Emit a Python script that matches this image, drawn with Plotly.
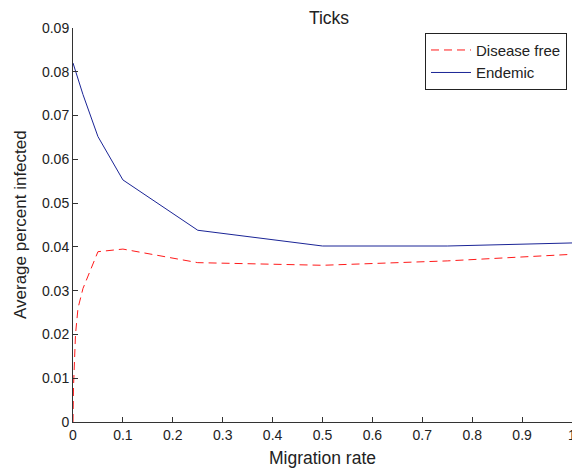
import plotly.graph_objects as go

# Data
x_free = [0, 0.001, 0.005, 0.01, 0.02, 0.05, 0.1, 0.25, 0.5, 0.75, 1.0]
y_free = [0, 0.008, 0.020, 0.026, 0.0305, 0.0389, 0.0395, 0.0364, 0.0358, 0.0368, 0.0383]

x_end = [0, 0.01, 0.02, 0.05, 0.1, 0.25, 0.5, 0.75, 1.0]
y_end = [0.0820, 0.0783, 0.0748, 0.0652, 0.0553, 0.0438, 0.0402, 0.0402, 0.0409]

x_ticks = [0, 0.1, 0.2, 0.3, 0.4, 0.5, 0.6, 0.7, 0.8, 0.9, 1]
x_tick_labels = ["0", "0.1", "0.2", "0.3", "0.4", "0.5", "0.6", "0.7", "0.8", "0.9", "1"]
y_ticks = [0, 0.01, 0.02, 0.03, 0.04, 0.05, 0.06, 0.07, 0.08, 0.09]
y_tick_labels = ["0", "0.01", "0.02", "0.03", "0.04", "0.05", "0.06", "0.07", "0.08", "0.09"]

font_family = "Liberation Sans, Arial, Helvetica, sans-serif"

fig = go.Figure()
fig.add_trace(go.Scatter(
    x=x_free, y=y_free, mode="lines", name="Disease free",
    line=dict(color="#ff1a1a", width=1, dash="8px,5px"),
))
fig.add_trace(go.Scatter(
    x=x_end, y=y_end, mode="lines", name="Endemic",
    line=dict(color="#1a2496", width=1),
))

fig.update_layout(
    width=572, height=468,
    margin=dict(l=73, r=0, t=28, b=46, autoexpand=False),
    paper_bgcolor="white", plot_bgcolor="white",
    font=dict(family=font_family, size=14, color="#222"),
    title=dict(text="Ticks", x=329 / 572, xanchor="center", xref="container",
               y=1 - 18 / 468, yanchor="middle", yref="container",
               font=dict(size=17.5, color="#222")),
    showlegend=True,
    legend=dict(
        x=0.99, xanchor="right", y=0.988, yanchor="top",
        bordercolor="#222", borderwidth=1, bgcolor="white",
        font=dict(size=15, color="#222"),
        tracegroupgap=0, itemsizing="trace", itemwidth=40,
    ),
    xaxis=dict(
        range=[0, 1], tickvals=x_ticks, ticktext=x_tick_labels, automargin=False,
        ticks="inside", ticklen=5, tickcolor="#333", showgrid=False, zeroline=False,
        showline=True, linecolor="#333", linewidth=1, ticklabeloverflow="allow",
        title=dict(text="Migration rate", font=dict(size=17.5), standoff=9),
        tickfont=dict(size=14),
    ),
    yaxis=dict(
        range=[0, 0.09], tickvals=y_ticks, ticktext=y_tick_labels, automargin=False,
        ticks="inside", ticklen=5, tickcolor="#333", showgrid=False, zeroline=False,
        showline=True, linecolor="#333", linewidth=1,
        tickfont=dict(size=14),
    ),
    annotations=[dict(
        text="Average percent infected", textangle=-90,
        xref="paper", yref="paper", x=(20 - 73) / 499, y=0.5,
        xanchor="center", yanchor="middle", showarrow=False,
        font=dict(size=17, color="#222"),
    )],
)

fig.write_html("out.html", config={"displayModeBar": False},
               post_script="document.body.style.margin='0';")
